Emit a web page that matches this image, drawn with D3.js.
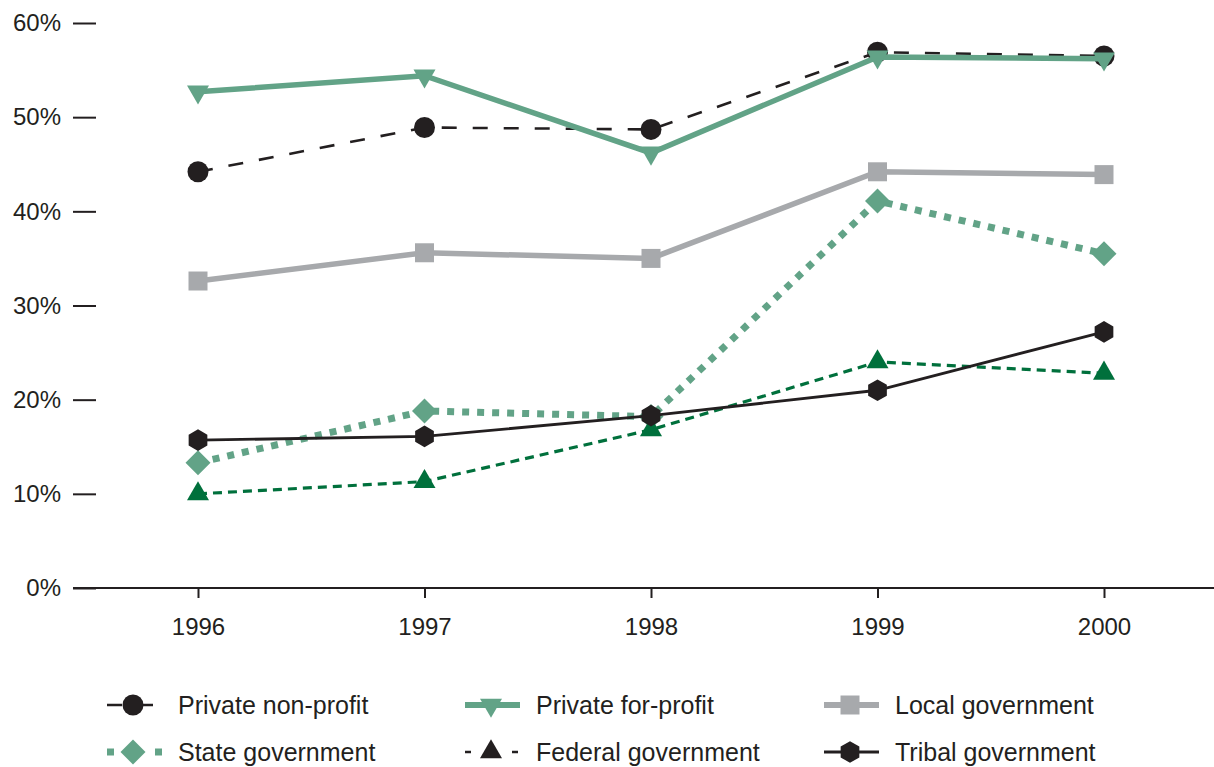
<!DOCTYPE html>
<html>
<head>
<meta charset="utf-8">
<script src="https://cdn.jsdelivr.net/npm/d3@7"></script>
<style>
  html, body { margin: 0; padding: 0; background: #fff; }
  svg { display: block; font-family: "Liberation Sans", Arial, sans-serif; }
</style>
</head>
<body>
<svg id="chart" width="1214" height="767"></svg>
<script>
// ---- Data ----
const years = [1996, 1997, 1998, 1999, 2000];
const yTicks = [0, 10, 20, 30, 40, 50, 60];
const privateNonProfit = [44.2, 48.9, 48.7, 56.9, 56.5];
const privateForProfit = [52.7, 54.4, 46.2, 56.4, 56.2];
const localGovernment = [32.6, 35.6, 35.0, 44.2, 43.9];
const stateGovernment = [13.3, 18.8, 18.2, 41.1, 35.5];
const federalGovernment = [10.0, 11.3, 16.8, 24.0, 22.8];
const tribalGovernment = [15.7, 16.1, 18.3, 21.0, 27.2];
const seriesNames = ["Private non-profit", "Private for-profit", "Local government",
                     "State government", "Federal government", "Tribal government"];

// ---- Styles ----
const INK = "#231f20";
const GREEN = "#62a387";
const DKGREEN = "#00703c";
const GREY = "#a7a9ac";

const series = [
  { name: seriesNames[0], values: privateNonProfit, color: INK, width: 2.6, dash: "15,16", marker: "circle",
    legend: { col: 0, row: 0, color: INK, dash: "15,16", width: 2.6 } },
  { name: seriesNames[1], values: privateForProfit, color: GREEN, width: 5.5, dash: null, marker: "triDown",
    legend: { col: 1, row: 0, color: GREEN, dash: null, width: 6 } },
  { name: seriesNames[2], values: localGovernment, color: GREY, width: 5.5, dash: null, marker: "square",
    legend: { col: 2, row: 0, color: GREY, dash: null, width: 6 } },
  { name: seriesNames[3], values: stateGovernment, color: GREEN, width: 7, dash: "7,8", marker: "diamond",
    legend: { col: 0, row: 1, color: GREEN, dash: "7,41", width: 7 } },
  { name: seriesNames[4], values: federalGovernment, color: DKGREEN, width: 3.2, dash: "9,6", marker: "triUp",
    legend: { col: 1, row: 1, color: INK, dash: "6,41", width: 2.6, markerColor: INK } },
  { name: seriesNames[5], values: tribalGovernment, color: INK, width: 2.8, dash: null, marker: "hexagon",
    legend: { col: 2, row: 1, color: INK, dash: null, width: 2.8 } }
];

// marker path builders (centered at 0,0)
function markerPath(type) {
  const p = d3.path();
  if (type === "circle") {
    p.arc(0, 0, 10.5, 0, 2 * Math.PI);
  } else if (type === "square") {
    p.rect(-9.5, -9.5, 19, 19);
  } else if (type === "diamond") {
    p.moveTo(0, -12.5); p.lineTo(12.5, 0); p.lineTo(0, 12.5); p.lineTo(-12.5, 0); p.closePath();
  } else if (type === "triUp" || type === "triDown") {
    const s = 22, h = s * Math.sqrt(3) / 2, k = type === "triUp" ? 1 : -1;
    p.moveTo(0, -k * 2 * h / 3); p.lineTo(s / 2, k * h / 3); p.lineTo(-s / 2, k * h / 3); p.closePath();
  } else if (type === "hexagon") {
    const R = 10.8;
    for (let i = 0; i < 6; i++) {
      const a = (-90 + 60 * i) * Math.PI / 180;
      if (i === 0) p.moveTo(R * Math.cos(a), R * Math.sin(a)); else p.lineTo(R * Math.cos(a), R * Math.sin(a));
    }
    p.closePath();
  }
  return p.toString();
}

// ---- Scales ----
const svg = d3.select("#chart");
const x = d3.scaleLinear().domain([1996, 2000]).range([198, 1104]);
const y = d3.scaleLinear().domain([0, 60]).range([588, 23]);

// ---- Axes ----
const yAxis = svg.append("g").attr("transform", "translate(96,0)")
  .call(d3.axisLeft(y).tickValues(yTicks).tickSize(23).tickPadding(12).tickFormat(d => d + "%"));
yAxis.select(".domain").remove();
yAxis.selectAll(".tick line").attr("stroke", INK).attr("stroke-width", 2);
yAxis.selectAll(".tick text").attr("fill", INK).style("font-size", "24px")
  .style("font-family", "'Liberation Sans', Arial, sans-serif");

const xAxis = svg.append("g").attr("transform", "translate(0,588)")
  .call(d3.axisBottom(x).tickValues(years).tickSize(10).tickPadding(20).tickFormat(d3.format("d")));
xAxis.select(".domain").remove();
xAxis.selectAll(".tick line").attr("stroke", INK).attr("stroke-width", 2);
xAxis.selectAll(".tick text").attr("fill", INK).style("font-size", "24px")
  .style("font-family", "'Liberation Sans', Arial, sans-serif");
svg.append("line").attr("x1", 73).attr("x2", 1214).attr("y1", 588).attr("y2", 588)
  .attr("stroke", INK).attr("stroke-width", 2);

// ---- Lines & markers ----
const line = d3.line().x((d, i) => x(years[i])).y(d => y(d));
series.forEach(s => {
  const g = svg.append("g");
  g.append("path").datum(s.values).attr("d", line)
    .attr("fill", "none").attr("stroke", s.color).attr("stroke-width", s.width)
    .attr("stroke-dasharray", s.dash).attr("stroke-linejoin", "miter");
  g.selectAll("path.m").data(s.values).join("path").attr("class", "m")
    .attr("d", markerPath(s.marker))
    .attr("transform", (d, i) => `translate(${x(years[i])},${y(d)})`)
    .attr("fill", s.color);
});

// ---- Legend ----
const colX = [133, 491, 850];
const rowY = [705, 752];
series.forEach(s => {
  const L = s.legend;
  const cx = colX[L.col], cy = rowY[L.row];
  const g = svg.append("g");
  g.append("line").attr("x1", cx - 26).attr("x2", cx + 29).attr("y1", cy).attr("y2", cy)
    .attr("stroke", L.color).attr("stroke-width", L.width).attr("stroke-dasharray", L.dash);
  g.append("path").attr("d", markerPath(s.marker)).attr("transform", `translate(${cx},${cy})`)
    .attr("fill", L.markerColor || L.color);
  g.append("text").attr("x", cx + 45).attr("y", cy).attr("dy", "0.35em")
    .attr("fill", INK).style("font-size", "25px").text(s.name);
});
</script>
</body>
</html>
